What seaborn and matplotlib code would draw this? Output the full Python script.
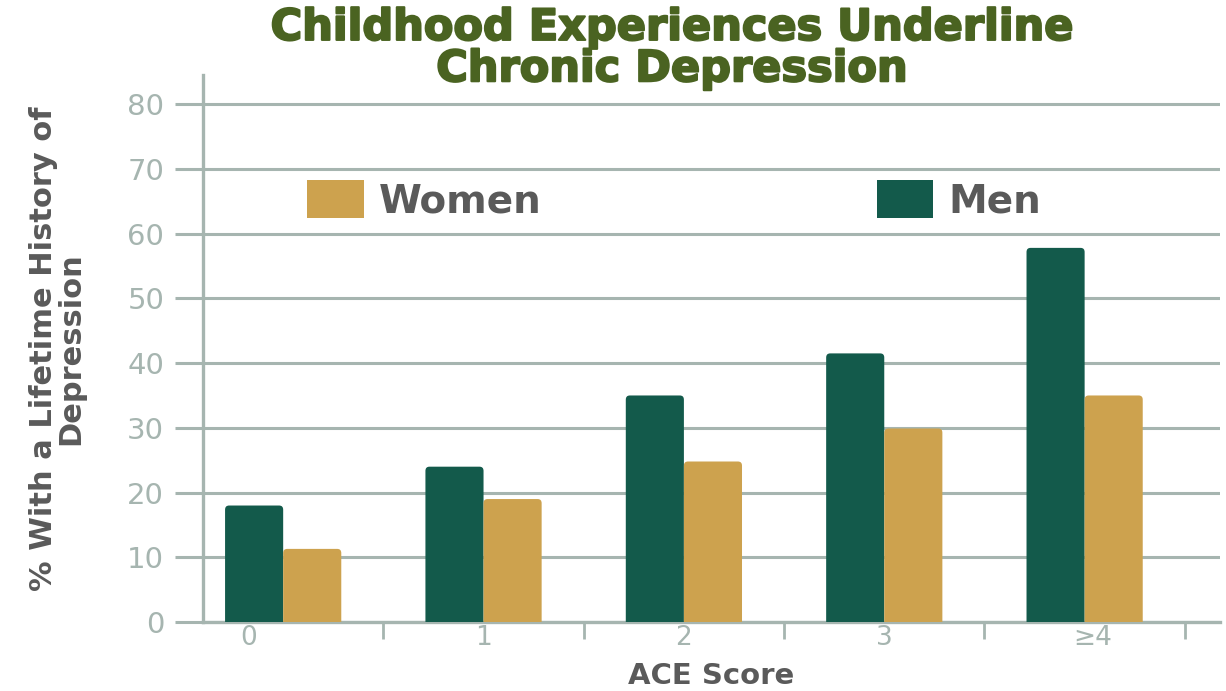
import pandas as pd
import numpy as np
import matplotlib.pyplot as plt
import seaborn as sns
import matplotlib.patheffects as pe
from matplotlib.patches import FancyBboxPatch, Patch

# data
ace_scores = ["0", "1", "2", "3", "≥4"]
men_pct = [18, 24, 35, 41.5, 57.8]
women_pct = [11.3, 19, 24.8, 29.9, 35]

men_color = "#135a4b"
women_color = "#cda24e"
axis_color = "#a6b5b0"
label_color = "#5a5a5a"
title_color = "#4a6321"

df = pd.DataFrame({
    "score": ace_scores * 2,
    "pct": men_pct + women_pct,
    "sex": ["Men"] * 5 + ["Women"] * 5,
})

sns.set_style("white")
plt.rcParams["font.family"] = ["DejaVu Sans"]

fig = plt.figure(figsize=(12.26, 6.91), dpi=100)
ax = fig.add_axes([0.1656, 0.0998, 0.8294, 0.7916])

sns.barplot(data=df, x="score", y="pct", hue="sex", order=ace_scores,
            hue_order=["Men", "Women"], palette=[men_color, women_color],
            width=0.58, gap=0, legend=False, ax=ax, saturation=1)

# swap plain bars for ones with rounded tops
old = list(ax.patches)
for p in old:
    x, w, h = p.get_x(), p.get_width(), p.get_height()
    fc = p.get_facecolor()
    p.remove()
    ax.add_patch(FancyBboxPatch((x, -3), w, h + 3,
                                boxstyle="round,pad=0,rounding_size=0.02",
                                mutation_aspect=32, facecolor=fc,
                                edgecolor="none", clip_on=True, zorder=3))

ax.set_xlim(-0.4, 4.675)
ax.set_ylim(0, 84.5)

# y axis: long ticks going out into gridlines
ax.set_yticks(range(0, 81, 10))
ax.set_yticklabels(["0", "10", "20", "30", "40", "50", "60", "70", "80"],
                   fontsize=21, color=axis_color)
ax.tick_params(axis="y", length=20, width=2.2, color=axis_color, pad=8, left=True)
ax.grid(axis="y", color=axis_color, linewidth=2.2, zorder=0)
ax.set_axisbelow(True)

# x axis: tick marks between groups, labels near group centers
ax.set_xticks([0.5, 1.5, 2.5, 3.5, 4.5])
ax.set_xticklabels([])
ax.tick_params(axis="x", which="major", length=12, width=2, color=axis_color,
               bottom=True, direction="out")
ax.set_xticks([-0.17, 1, 2, 3, 4.04], minor=True)
ax.set_xticklabels(ace_scores, minor=True, fontsize=19, color=axis_color)
ax.tick_params(axis="x", which="minor", length=0, pad=2)

sns.despine(ax=ax, top=True, right=True)
ax.spines["left"].set_color(axis_color)
ax.spines["left"].set_linewidth(2.4)
ax.spines["bottom"].set_color(axis_color)
ax.spines["bottom"].set_linewidth(2.4)

ax.set_xlabel("ACE Score", fontsize=21, fontweight="bold", color=label_color,
              va="bottom")
ax.xaxis.set_label_coords(0.5, -0.1235)
ax.set_ylabel("% With a Lifetime History of\nDepression", fontsize=22,
              fontweight="bold", color=label_color, linespacing=0.95, labelpad=30)

# legend: two separate entries spread across the plot
leg_kw = dict(loc="center left", frameon=False, handlelength=1.45,
              handleheight=1.1, handletextpad=0.4,
              prop={"weight": "bold", "size": 28})
leg1 = ax.legend(handles=[Patch(facecolor=women_color, edgecolor="none")],
                 labels=["Women"], bbox_to_anchor=(0.068, 0.771), **leg_kw)
for t in leg1.get_texts():
    t.set_color(label_color)
ax.add_artist(leg1)
leg2 = ax.legend(handles=[Patch(facecolor=men_color, edgecolor="none")],
                 labels=["Men"], bbox_to_anchor=(0.628, 0.771), **leg_kw)
for t in leg2.get_texts():
    t.set_color(label_color)

fig.text(0.548, 0.99, "Childhood Experiences Underline\nChronic Depression",
         ha="center", va="top", fontsize=31, fontweight="heavy",
         color=title_color, linespacing=0.98,
         path_effects=[pe.withStroke(linewidth=1.5, foreground=title_color)])

fig.savefig("out.png", dpi=100)
